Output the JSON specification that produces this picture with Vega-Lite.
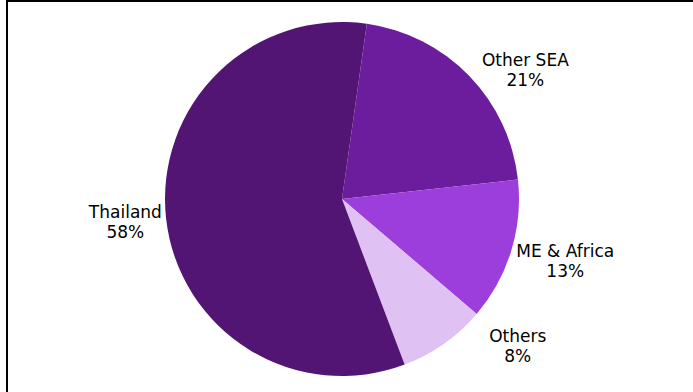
{
  "$schema": "https://vega.github.io/schema/vega-lite/v6.json",
  "autosize": "none",
  "width": 688,
  "height": 396,
  "padding": {"left": 7, "top": 1, "right": 0, "bottom": 0},
  "view": {"stroke": "#000000", "strokeWidth": 2, "fill": "#ffffff"},
  "config": {"font": "DejaVu Sans"},
  "data": {"values": [
    {"cat": "Other SEA", "value": 21, "label": "Other SEA\n21%"},
    {"cat": "ME & Africa", "value": 13, "label": "ME & Africa\n13%"},
    {"cat": "Others", "value": 8, "label": "Others\n8%"},
    {"cat": "Thailand", "value": 58, "label": "Thailand\n58%"}
  ]},
  "transform": [{"window": [{"op": "row_number", "as": "i"}]}],
  "encoding": {
    "theta": {"field": "value", "type": "quantitative", "stack": true, "scale": {"range": [0.141, 6.424]}},
    "order": {"field": "i", "type": "quantitative"},
    "color": {"field": "cat", "type": "nominal", "legend": null,
      "scale": {"domain": ["Other SEA", "ME & Africa", "Others", "Thailand"], "range": ["#6C1D9E", "#9C3EDC", "#DFC2F3", "#531574"]}}
  },
  "layer": [
    {"mark": {"type": "arc", "outerRadius": 177, "xOffset": -9, "stroke": null}},
    {"mark": {"type": "text", "radius": 222, "xOffset": -9, "dx": 4, "dy": -10, "fontSize": 17, "lineBreak": "\n", "align": "center", "baseline": "middle", "lineHeight": 20},
     "encoding": {"color": {"value": "#000000"}, "text": {"condition": {"test": "datum.cat == 'Thailand'", "field": "label"}, "value": ""}}},
    {"mark": {"type": "text", "radius": 222, "xOffset": -9, "dx": 11, "dy": -12, "fontSize": 17, "lineBreak": "\n", "align": "center", "baseline": "middle", "lineHeight": 20},
     "encoding": {"color": {"value": "#000000"}, "text": {"condition": {"test": "datum.cat == 'ME & Africa'", "field": "label"}, "value": ""}}},
    {"mark": {"type": "text", "radius": 222, "xOffset": -9, "dx": 24, "dy": 17, "fontSize": 17, "lineBreak": "\n", "align": "center", "baseline": "middle", "lineHeight": 20},
     "encoding": {"color": {"value": "#000000"}, "text": {"condition": {"test": "datum.cat == 'Other SEA'", "field": "label"}, "value": ""}}},
    {"mark": {"type": "text", "radius": 222, "xOffset": -9, "dx": 48, "dy": -44, "fontSize": 17, "lineBreak": "\n", "align": "center", "baseline": "middle", "lineHeight": 20},
     "encoding": {"color": {"value": "#000000"}, "text": {"condition": {"test": "datum.cat == 'Others'", "field": "label"}, "value": ""}}}
  ]
}
